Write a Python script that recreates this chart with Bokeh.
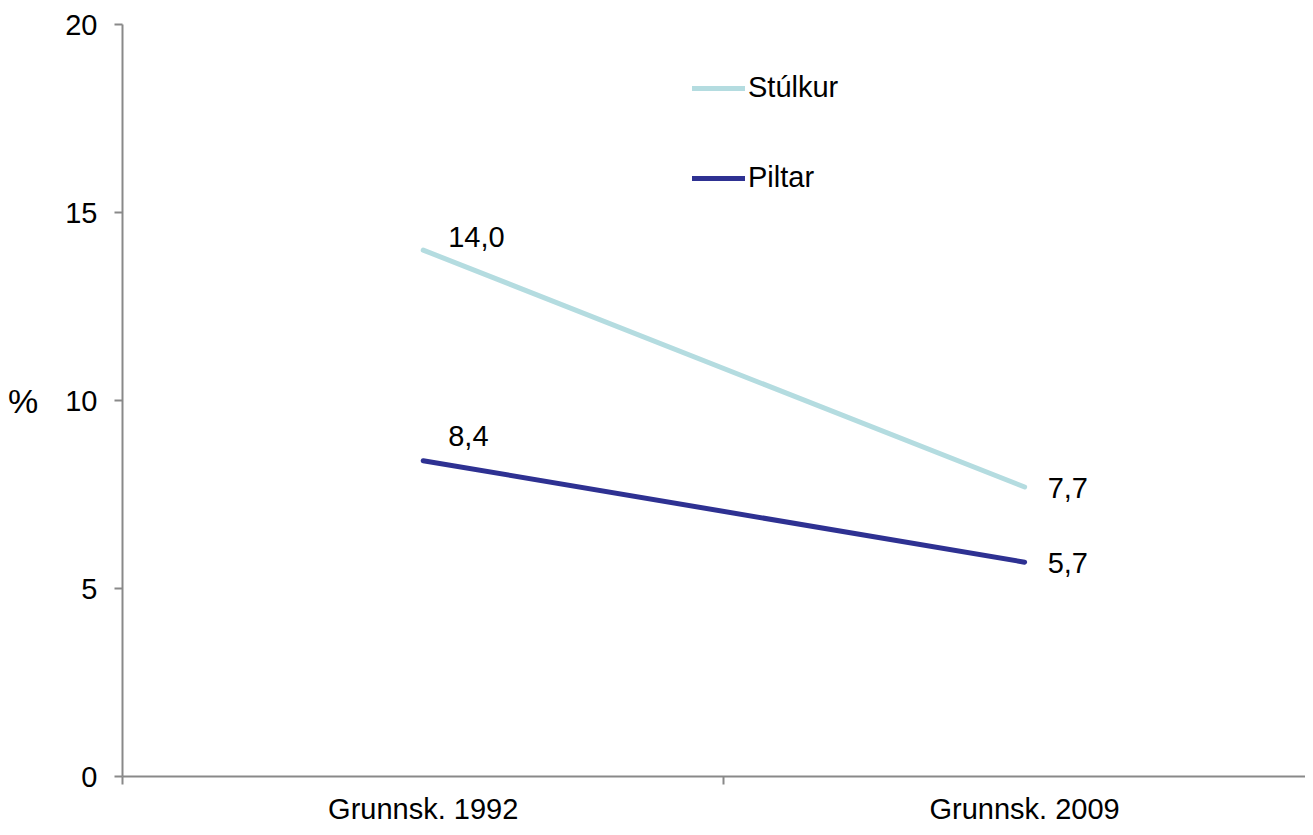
from bokeh.plotting import figure
from bokeh.models import (Range1d, FixedTicker, Legend, LegendItem, ColumnDataSource)
from bokeh.core.properties import value
from bokeh.embed import file_html
from bokeh.resources import INLINE

categories = ["Grunnsk. 1992", "Grunnsk. 2009"]
stulkur = [14.0, 7.7]
piltar = [8.4, 5.7]
series_names = ["Stúlkur", "Piltar"]
y_ticks = [0, 5, 10, 15, 20]

FONT = "Liberation Sans"
FS = "29px"
GRAY = "#898989"
COLORS = ["#B4DCE0", "#2E3192"]

xpos = [i + 0.5 for i in range(len(categories))]

p = figure(width=1305, height=827, output_backend="svg", toolbar_location=None,
           x_range=Range1d(0, 1.967), y_range=Range1d(0, 20),
           min_border_left=122, min_border_top=24, min_border_right=0, min_border_bottom=0)
p.outline_line_color = None
p.xgrid.visible = False
p.ygrid.visible = False
p.background_fill_color = "white"

renderers = []
for name, vals, col in zip(series_names, [stulkur, piltar], COLORS):
    r = p.line(xpos, vals, line_color=col, line_width=5, line_cap="round")
    renderers.append((name, r))

# data labels
def fmt(v):
    return f"{v:.1f}".replace(".", ",")

first = ColumnDataSource(dict(x=[xpos[0], xpos[0]], y=[stulkur[0], piltar[0]],
                              t=[fmt(stulkur[0]), fmt(piltar[0])], yo=[-13, -25]))
p.text(x="x", y="y", text="t", source=first, x_offset=25, y_offset="yo",
       text_align="left", text_baseline="middle", text_font=value(FONT),
       text_font_size=FS, text_color="black")
last = ColumnDataSource(dict(x=[xpos[1], xpos[1]], y=[stulkur[1], piltar[1]],
                             t=[fmt(stulkur[1]), fmt(piltar[1])]))
p.text(x="x", y="y", text="t", source=last, x_offset=23, y_offset=1,
       text_align="left", text_baseline="middle", text_font=value(FONT),
       text_font_size=FS, text_color="black")

# axes
xa = p.xaxis[0]
xa.ticker = FixedTicker(ticks=xpos, minor_ticks=[float(i) for i in range(len(categories) + 1)])
xa.major_label_overrides = {x: c for x, c in zip(xpos, categories)}
xa.major_tick_out = 0
xa.major_tick_in = 0
xa.minor_tick_out = 8
xa.minor_tick_in = 0
xa.minor_tick_line_color = GRAY
xa.minor_tick_line_width = 2
xa.axis_line_color = GRAY
xa.axis_line_width = 2
xa.major_label_standoff = 8
xa.major_label_text_font = FONT
xa.major_label_text_font_size = FS
xa.major_label_text_color = "black"

ya = p.yaxis[0]
ya.ticker = FixedTicker(ticks=y_ticks)
ya.major_tick_out = 8
ya.major_tick_in = 0
ya.minor_tick_out = 0
ya.minor_tick_in = 0
ya.major_tick_line_color = GRAY
ya.major_tick_line_width = 2
ya.axis_line_color = GRAY
ya.axis_line_width = 2
ya.major_label_standoff = 17
ya.major_label_text_font = FONT
ya.major_label_text_font_size = FS
ya.major_label_text_color = "black"
ya.axis_label = "%"
ya.axis_label_orientation = "horizontal"
ya.axis_label_standoff = 24
ya.axis_label_text_font = FONT
ya.axis_label_text_font_size = "34px"
ya.axis_label_text_font_style = "normal"
ya.axis_label_text_color = "black"

legend = Legend(items=[LegendItem(label=n, renderers=[r]) for n, r in renderers],
                location=(570, 582), orientation="vertical",
                glyph_width=53, glyph_height=30, label_height=30, spacing=57,
                label_standoff=3, padding=0, margin=0,
                label_text_font=FONT, label_text_font_size=FS, label_text_color="black",
                border_line_color=None, background_fill_alpha=0)
p.add_layout(legend, "center")

open("out.html", "w").write(file_html(p, INLINE))
